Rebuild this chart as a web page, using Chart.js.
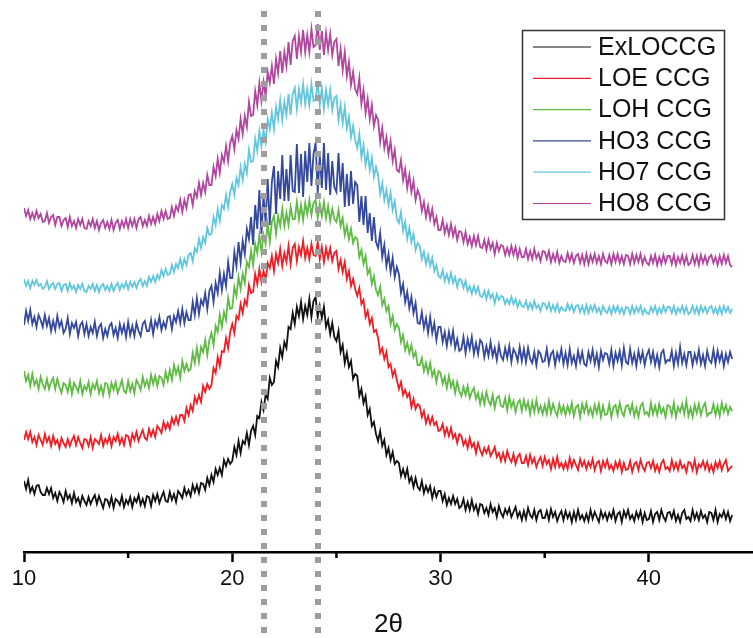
<!DOCTYPE html>
<html>
<head>
<meta charset="utf-8">
<script src="https://cdn.jsdelivr.net/npm/chart.js@4.4.1/dist/chart.umd.min.js"></script>
<style>
  body { margin: 0; background: #fff; }
  canvas { display: block; }
</style>
</head>
<body>
<canvas id="xrdChart" width="753" height="638"></canvas>
<script>
// 2-theta sampling: 10.0 .. 44.0 in 0.1 degree steps, one row per degree
const thetaStart = 10;
const thetaStep = 0.1;

// stacked intensities (a.u., each sample offset upward)
const exLOCCG = [
  71, 63, 72, 60, 65, 58, 66, 67, 60, 57,
  57, 64, 58, 64, 54, 59, 51, 60, 56, 50,
  61, 53, 57, 49, 59, 50, 54, 47, 56, 51,
  47, 55, 48, 53, 57, 48, 56, 50, 44, 53,
  52, 46, 55, 44, 53, 51, 47, 56, 45, 52,
  48, 55, 45, 54, 50, 57, 47, 53, 46, 56,
  55, 46, 57, 51, 58, 49, 55, 60, 51, 50,
  60, 52, 58, 50, 61, 58, 54, 64, 57, 62,
  56, 67, 60, 67, 59, 69, 68, 62, 74, 67,
  77, 70, 83, 77, 84, 77, 92, 86, 93, 88,
  91, 105, 97, 111, 99, 111, 108, 119, 107, 121,
  126, 117, 136, 134, 150, 142, 157, 153, 174, 167,
  170, 191, 185, 204, 195, 210, 204, 225, 223, 239,
  228, 245, 236, 250, 233, 246, 237, 253, 235, 251,
  255, 235, 246, 234, 245, 225, 232, 218, 229, 215,
  211, 221, 200, 207, 189, 199, 185, 191, 173, 178,
  176, 156, 163, 149, 156, 137, 143, 126, 130, 118,
  111, 121, 106, 112, 97, 104, 92, 100, 88, 91,
  89, 76, 83, 75, 83, 70, 75, 65, 74, 65,
  62, 71, 59, 66, 60, 66, 54, 63, 55, 61,
  61, 51, 58, 47, 54, 48, 56, 48, 53, 44,
  46, 53, 42, 50, 42, 52, 42, 47, 38, 48,
  47, 39, 44, 37, 48, 40, 44, 35, 46, 39,
  35, 43, 38, 44, 35, 40, 45, 35, 40, 32,
  41, 33, 44, 37, 34, 42, 32, 40, 42, 34,
  34, 41, 32, 43, 35, 40, 31, 37, 41, 32,
  41, 34, 39, 30, 40, 32, 42, 33, 37, 31,
  38, 31, 42, 33, 40, 35, 30, 41, 34, 39,
  32, 39, 34, 42, 31, 38, 40, 30, 41, 35,
  42, 33, 37, 31, 40, 34, 41, 30, 39, 32,
  33, 41, 30, 38, 40, 32, 42, 35, 31, 39,
  40, 34, 41, 31, 37, 30, 39, 42, 33, 35,
  31, 42, 33, 39, 32, 41, 34, 37, 30, 40,
  39, 32, 42, 30, 38, 35, 41, 33, 40, 31,
  37
];
const loeCCG = [
  112, 120, 113, 120, 110, 115, 107, 117, 112, 107,
  118, 110, 115, 106, 116, 108, 112, 104, 114, 109,
  105, 113, 106, 112, 116, 107, 115, 109, 104, 113,
  112, 106, 115, 104, 113, 111, 108, 117, 106, 113,
  109, 116, 106, 115, 111, 118, 108, 114, 107, 117,
  116, 107, 118, 112, 120, 111, 117, 122, 114, 112,
  123, 116, 122, 115, 126, 123, 119, 130, 123, 129,
  123, 134, 128, 135, 128, 137, 137, 131, 144, 137,
  147, 141, 155, 149, 157, 150, 166, 160, 168, 163,
  167, 184, 179, 195, 186, 201, 200, 214, 204, 220,
  228, 219, 236, 233, 248, 239, 252, 247, 267, 259,
  260, 278, 268, 283, 270, 281, 272, 289, 284, 296,
  281, 298, 289, 303, 286, 299, 290, 306, 288, 304,
  308, 291, 305, 297, 311, 294, 304, 293, 308, 297,
  296, 310, 293, 305, 290, 304, 294, 304, 291, 299,
  301, 283, 292, 280, 290, 273, 281, 266, 273, 263,
  256, 264, 248, 252, 235, 241, 228, 234, 220, 222,
  214, 199, 204, 193, 200, 185, 188, 176, 182, 172,
  163, 170, 157, 162, 155, 159, 145, 153, 143, 148,
  146, 135, 141, 129, 136, 128, 135, 127, 130, 121,
  122, 128, 117, 124, 116, 124, 114, 118, 109, 118,
  116, 107, 112, 104, 114, 105, 109, 99, 109, 102,
  97, 104, 99, 105, 96, 100, 105, 95, 99, 91,
  99, 91, 101, 94, 90, 98, 88, 95, 98, 89,
  89, 96, 87, 97, 89, 94, 85, 91, 95, 86,
  95, 88, 92, 83, 93, 85, 95, 85, 89, 83,
  90, 83, 94, 85, 92, 87, 82, 93, 86, 91,
  83, 90, 85, 93, 82, 89, 91, 81, 91, 85,
  92, 83, 87, 81, 90, 84, 91, 80, 89, 82,
  83, 91, 80, 88, 90, 82, 92, 85, 81, 89,
  90, 84, 91, 81, 87, 80, 89, 92, 83, 85,
  81, 92, 83, 89, 82, 91, 84, 87, 80, 90,
  89, 82, 92, 80, 88, 85, 91, 83, 90, 81,
  87, 80, 90, 84, 91, 82, 88, 92, 81, 84,
  86
];
const lohCCG = [
  181, 171, 177, 166, 178, 167, 172, 163, 175, 168,
  163, 173, 163, 170, 174, 163, 173, 165, 159, 169,
  167, 160, 171, 158, 169, 165, 160, 171, 158, 166,
  162, 170, 158, 168, 163, 171, 159, 166, 157, 169,
  168, 157, 169, 162, 170, 159, 165, 172, 161, 159,
  171, 161, 168, 159, 172, 168, 162, 175, 166, 172,
  164, 177, 168, 176, 166, 176, 174, 167, 180, 171,
  182, 172, 187, 178, 185, 174, 191, 181, 188, 181,
  183, 199, 189, 204, 190, 205, 200, 212, 197, 212,
  219, 207, 226, 220, 237, 225, 240, 232, 254, 243,
  244, 265, 256, 275, 263, 278, 269, 290, 285, 301,
  287, 308, 299, 317, 300, 317, 308, 328, 310, 330,
  336, 318, 336, 326, 343, 326, 339, 327, 345, 333,
  333, 350, 333, 347, 332, 349, 338, 352, 337, 349,
  352, 334, 348, 336, 350, 334, 346, 331, 343, 333,
  330, 342, 326, 334, 317, 326, 313, 323, 309, 315,
  313, 295, 302, 288, 296, 278, 283, 268, 276, 262,
  257, 265, 247, 253, 241, 246, 228, 236, 222, 228,
  224, 210, 217, 202, 209, 199, 207, 195, 200, 187,
  187, 194, 181, 189, 179, 189, 176, 182, 170, 181,
  179, 168, 175, 164, 176, 165, 171, 159, 170, 161,
  156, 165, 157, 166, 154, 160, 164, 153, 159, 148,
  158, 148, 160, 151, 147, 157, 144, 154, 156, 146,
  145, 154, 142, 155, 145, 151, 140, 149, 152, 141,
  152, 143, 150, 138, 150, 140, 152, 140, 146, 138,
  147, 138, 151, 139, 148, 141, 136, 148, 139, 146,
  137, 146, 139, 149, 136, 145, 147, 135, 148, 140,
  149, 138, 144, 136, 147, 139, 148, 135, 146, 137,
  138, 148, 135, 145, 147, 137, 149, 140, 136, 146,
  147, 139, 148, 136, 144, 135, 146, 149, 138, 140,
  136, 149, 138, 146, 137, 148, 139, 144, 135, 147,
  146, 137, 149, 135, 145, 140, 148, 138, 151, 136,
  144, 135, 147, 139, 148, 137, 145, 149, 136, 139,
  139, 148, 137, 146, 136, 149, 140, 147, 138, 145,
  141
];
const ho3CCG = [
  227, 241, 231, 242, 228, 235, 225, 237, 232, 225,
  237, 226, 234, 221, 231, 222, 236, 225, 231, 219,
  223, 234, 218, 229, 224, 230, 216, 227, 230, 218,
  228, 216, 225, 219, 230, 216, 225, 228, 214, 223,
  216, 226, 229, 217, 224, 214, 228, 219, 227, 215,
  230, 217, 226, 216, 229, 221, 216, 228, 231, 221,
  221, 232, 218, 231, 225, 235, 222, 230, 224, 235,
  236, 223, 236, 230, 241, 229, 243, 229, 240, 232,
  232, 250, 237, 254, 238, 252, 247, 259, 243, 261,
  266, 250, 269, 259, 279, 262, 278, 266, 290, 274,
  274, 300, 286, 310, 290, 311, 298, 323, 313, 335,
  307, 347, 323, 362, 318, 357, 329, 373, 327, 370,
  386, 338, 381, 353, 397, 351, 383, 351, 397, 361,
  360, 408, 359, 398, 355, 401, 370, 409, 366, 398,
  409, 359, 397, 364, 409, 362, 399, 357, 391, 365,
  360, 399, 360, 389, 345, 378, 346, 381, 348, 370,
  367, 330, 356, 327, 356, 319, 339, 311, 335, 310,
  304, 319, 295, 307, 286, 298, 280, 294, 275, 285,
  278, 259, 268, 250, 260, 244, 255, 239, 249, 229,
  228, 240, 224, 234, 219, 235, 219, 229, 212, 225,
  225, 210, 220, 206, 220, 209, 221, 204, 213, 201,
  203, 215, 199, 213, 203, 215, 198, 209, 198, 212,
  209, 195, 206, 196, 210, 196, 204, 192, 207, 196,
  192, 204, 194, 206, 190, 203, 199, 191, 205, 191,
  203, 190, 204, 193, 189, 200, 187, 201, 198, 190,
  191, 203, 188, 198, 201, 187, 199, 192, 203, 188,
  199, 187, 203, 189, 196, 186, 201, 190, 200, 188,
  186, 200, 191, 202, 188, 198, 185, 201, 192, 199,
  198, 188, 202, 186, 199, 191, 201, 187, 204, 190,
  188, 203, 189, 198, 186, 201, 191, 200, 187, 197,
  202, 190, 200, 187, 197, 185, 199, 202, 189, 192,
  191, 201, 186, 199, 188, 205, 189, 198, 187, 200,
  200, 187, 198, 190, 202, 188, 197, 186, 201, 192,
  189, 202, 188, 201, 191, 199, 186, 198, 190, 200,
  193
];
const ho7CCG = [
  273, 266, 271, 264, 271, 267, 272, 266, 268, 263,
  265, 271, 263, 267, 269, 263, 268, 269, 261, 267,
  268, 261, 269, 263, 266, 260, 267, 263, 268, 261,
  260, 266, 263, 268, 261, 267, 260, 266, 268, 262,
  266, 261, 268, 261, 266, 269, 262, 268, 264, 270,
  263, 270, 265, 270, 264, 270, 273, 266, 271, 266,
  275, 270, 276, 270, 277, 273, 282, 276, 283, 277,
  278, 287, 280, 288, 284, 293, 284, 293, 287, 297,
  299, 291, 304, 300, 313, 304, 315, 309, 324, 317,
  318, 335, 327, 343, 331, 347, 343, 357, 345, 360,
  368, 357, 374, 367, 385, 372, 388, 379, 402, 390,
  391, 413, 401, 421, 406, 422, 410, 433, 423, 439,
  423, 445, 433, 452, 432, 450, 437, 458, 437, 458,
  464, 443, 463, 449, 468, 448, 463, 447, 468, 451,
  452, 471, 447, 464, 443, 462, 447, 462, 442, 454,
  456, 432, 447, 429, 445, 424, 435, 415, 426, 412,
  404, 418, 395, 407, 387, 399, 382, 394, 375, 385,
  377, 358, 369, 352, 362, 347, 359, 342, 351, 333,
  329, 340, 321, 330, 313, 324, 310, 318, 302, 309,
  306, 293, 300, 288, 297, 286, 294, 281, 287, 276,
  274, 282, 271, 278, 270, 279, 269, 275, 265, 273,
  272, 264, 271, 261, 266, 258, 266, 259, 265, 256,
  255, 261, 253, 261, 254, 258, 249, 258, 252, 256,
  255, 248, 253, 248, 255, 248, 253, 245, 251, 246,
  245, 251, 243, 249, 243, 251, 244, 247, 241, 249,
  248, 243, 249, 241, 247, 241, 248, 240, 245, 242,
  241, 248, 242, 247, 240, 246, 247, 240, 246, 239,
  247, 239, 246, 241, 247, 240, 244, 238, 246, 241,
  239, 245, 238, 246, 240, 246, 239, 244, 238, 245,
  244, 238, 246, 239, 245, 240, 246, 238, 243, 239,
  238, 245, 240, 246, 238, 244, 239, 246, 240, 245,
  245, 239, 246, 238, 244, 240, 246, 239, 245, 238,
  240, 246, 239, 245, 238, 246, 240, 245, 239, 244,
  246, 239, 244, 238, 245, 238, 246, 240, 245, 239,
  243
];
const ho8CCG = [
  344, 336, 342, 333, 339, 333, 341, 334, 338, 330,
  331, 339, 329, 335, 337, 327, 335, 335, 326, 332,
  334, 325, 335, 326, 331, 324, 333, 327, 333, 324,
  323, 331, 326, 333, 324, 331, 322, 329, 332, 324,
  330, 323, 332, 322, 329, 332, 323, 331, 325, 333,
  324, 333, 326, 333, 324, 333, 335, 326, 332, 326,
  336, 328, 335, 328, 338, 331, 341, 333, 341, 333,
  334, 345, 336, 346, 341, 352, 340, 352, 344, 357,
  358, 347, 361, 355, 369, 357, 369, 360, 377, 367,
  367, 385, 376, 393, 379, 397, 390, 406, 391, 409,
  416, 403, 422, 413, 433, 418, 436, 425, 450, 436,
  437, 461, 447, 469, 451, 470, 456, 480, 469, 486,
  468, 493, 479, 501, 479, 500, 486, 510, 487, 511,
  516, 493, 516, 500, 522, 500, 517, 500, 523, 505,
  507, 528, 502, 521, 497, 519, 502, 518, 497, 510,
  513, 486, 503, 482, 500, 476, 490, 467, 480, 463,
  458, 474, 448, 462, 439, 453, 433, 447, 426, 437,
  432, 410, 424, 404, 415, 398, 411, 391, 402, 382,
  380, 392, 372, 383, 364, 377, 360, 371, 352, 362,
  356, 341, 350, 335, 346, 333, 343, 328, 335, 322,
  322, 332, 319, 327, 317, 328, 316, 324, 312, 321,
  320, 310, 320, 308, 315, 306, 316, 307, 316, 305,
  304, 312, 302, 312, 303, 309, 298, 309, 301, 307,
  306, 297, 304, 297, 306, 297, 305, 294, 303, 295,
  295, 303, 293, 301, 293, 303, 294, 299, 291, 301,
  300, 293, 301, 290, 298, 291, 300, 289, 296, 291,
  290, 299, 291, 298, 289, 296, 298, 289, 297, 288,
  298, 288, 297, 290, 298, 289, 296, 288, 298, 291,
  289, 297, 288, 298, 290, 298, 289, 296, 288, 297,
  296, 288, 298, 289, 297, 290, 298, 288, 295, 289,
  287, 296, 289, 297, 287, 295, 288, 297, 289, 296,
  296, 288, 297, 287, 295, 289, 297, 288, 296, 287,
  289, 297, 288, 296, 287, 297, 289, 296, 288, 295,
  297, 289, 295, 287, 296, 288, 297, 289, 296, 287,
  285
];

const seriesNames = ['ExLOCCG', 'LOE CCG', 'LOH CCG', 'HO3 CCG', 'HO7 CCG', 'HO8 CCG'];
const seriesColors = ['#111111', '#ec1f26', '#5fbb45', '#34489c', '#62c7dc', '#b0469e'];
const xTicks = [10, 20, 30, 40];
const xMinorTicks = [15, 25, 35];
const markerAngles = [21.5, 24.1];

const allSeries = [exLOCCG, loeCCG, lohCCG, ho3CCG, ho7CCG, ho8CCG];
const fontFamily = '"Liberation Sans", Arial, Helvetica, sans-serif';

function toPoints(values) {
  return values.map((v, i) => ({ x: +(thetaStart + i * thetaStep).toFixed(1), y: v }));
}

const datasets = allSeries.map((values, i) => ({
  label: seriesNames[i],
  data: toPoints(values),
  borderColor: seriesColors[i],
  borderWidth: 1.8,
  pointRadius: 0,
  tension: 0,
  fill: false
}));

// gray dotted guides at the two reflection positions
const markerLines = {
  id: 'markerLines',
  afterDatasetsDraw(chart) {
    const { ctx, scales: { x } } = chart;
    ctx.save();
    ctx.strokeStyle = '#9e9e9e';
    ctx.lineWidth = 6;
    ctx.setLineDash([6, 8]);
    markerAngles.forEach(a => {
      const px = Math.round(x.getPixelForValue(a));
      ctx.beginPath();
      ctx.moveTo(px, 11);
      ctx.lineTo(px, chart.height);
      ctx.stroke();
    });
    ctx.restore();
  }
};

// short unlabelled ticks halfway between the labelled ones
const minorTicks = {
  id: 'minorTicks',
  afterDraw(chart) {
    const { ctx, scales: { x }, chartArea } = chart;
    ctx.save();
    ctx.strokeStyle = '#000';
    ctx.lineWidth = 2.5;
    xMinorTicks.forEach(v => {
      const px = x.getPixelForValue(v);
      ctx.beginPath();
      ctx.moveTo(px, chartArea.bottom);
      ctx.lineTo(px, chartArea.bottom + 6);
      ctx.stroke();
    });
    ctx.restore();
  }
};

// boxed legend in the upper right of the plot
const boxLegend = {
  id: 'boxLegend',
  afterDraw(chart) {
    const ctx = chart.ctx;
    const left = 522, top = 30, w = 202, h = 189;
    ctx.save();
    ctx.fillStyle = '#fff';
    ctx.fillRect(left, top, w, h);
    ctx.strokeStyle = '#333';
    ctx.lineWidth = 1.5;
    ctx.strokeRect(left + 0.5, top + 0.5, w, h);
    ctx.font = '25px ' + fontFamily;
    ctx.textBaseline = 'middle';
    chart.data.datasets.forEach((ds, i) => {
      const y = 47 + i * 31.3;
      ctx.strokeStyle = ds.borderColor;
      ctx.lineWidth = 1.2;
      ctx.beginPath();
      ctx.moveTo(left + 11, y);
      ctx.lineTo(left + 69, y);
      ctx.stroke();
      ctx.fillStyle = '#111';
      ctx.fillText(ds.label, left + 76, y + 1);
    });
    ctx.restore();
  }
};

const config = {
  type: 'line',
  data: { datasets: datasets },
  options: {
    responsive: false,
    animation: false,
    layout: { padding: { left: 24, right: 0, top: 0, bottom: 0 } },
    plugins: {
      legend: { display: false },
      tooltip: { enabled: false }
    },
    scales: {
      x: {
        type: 'linear',
        min: 10,
        max: 45,
        afterBuildTicks: scale => { scale.ticks = xTicks.map(v => ({ value: v })); },
        afterFit: scale => { scale.height = 86; },
        border: { display: true, color: '#000', width: 2.5 },
        grid: {
          display: true,
          drawOnChartArea: false,
          drawTicks: true,
          tickLength: 10,
          tickWidth: 2.5,
          tickColor: '#000'
        },
        ticks: {
          font: { family: fontFamily, size: 22 },
          color: '#111',
          padding: 4,
          maxRotation: 0
        },
        title: {
          display: true,
          text: '2θ',
          font: { family: fontFamily, size: 26 },
          color: '#111',
          padding: { top: 0, bottom: -2 }
        }
      },
      y: { display: false, min: 0, max: 552 }
    }
  },
  plugins: [markerLines, minorTicks, boxLegend]
};

const xrdChart = new Chart(document.getElementById('xrdChart').getContext('2d'), config);
</script>
</body>
</html>
